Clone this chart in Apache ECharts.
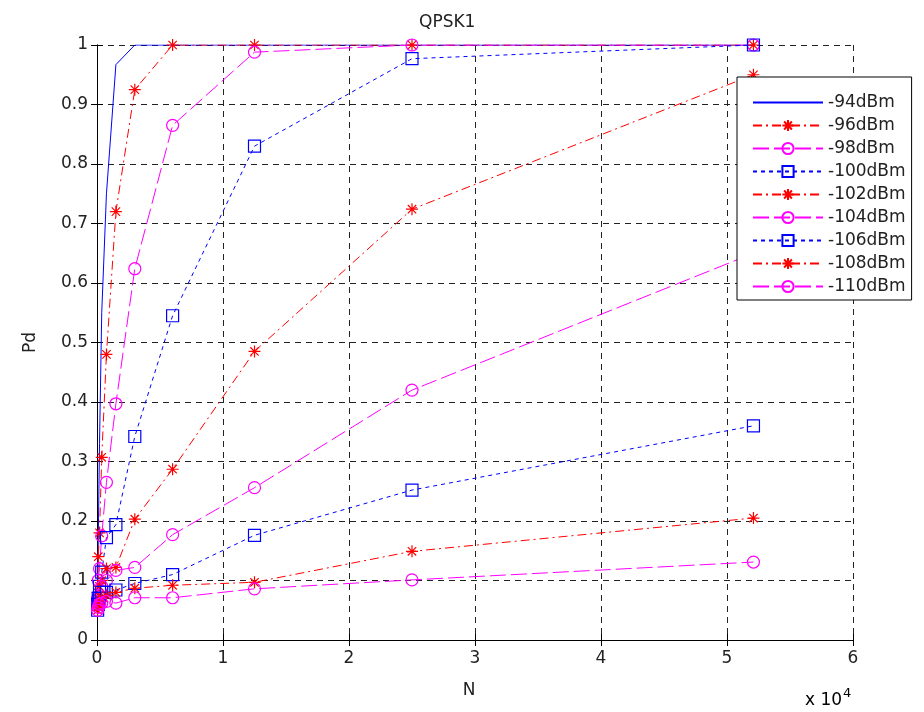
<!DOCTYPE html>
<html>
<head>
<meta charset="utf-8">
<script src="https://cdn.jsdelivr.net/npm/echarts@6/dist/echarts.min.js"></script>
<style>
html,body{margin:0;padding:0;background:#fff;}
#c{width:924px;height:712px;}
</style>
</head>
<body>
<div id="c"></div>
<script>
// Number of samples N (x axis)
const N = [50, 100, 200, 375, 750, 1500, 3000, 6000, 12500, 25000, 52100];
// Detection probability per received power
const seriesNames = ['-94dBm', '-96dBm', '-98dBm', '-100dBm', '-102dBm', '-104dBm', '-106dBm', '-108dBm', '-110dBm'];
const pd94  = [0.09, 0.17, 0.33, 0.55, 0.75, 0.967, 1, 1, 1, 1, 1];
const pd96  = [0.08, 0.14, 0.18, 0.307, 0.48, 0.72, 0.925, 1, 1, 1, 1];
const pd98  = [0.07, 0.10, 0.12, 0.175, 0.265, 0.397, 0.624, 0.865, 0.988, 1, 1];
const pd100 = [0.06, 0.07, 0.09, 0.114, 0.172, 0.194, 0.342, 0.545, 0.83, 0.977, 1];
const pd102 = [0.06, 0.07, 0.09, 0.10, 0.12, 0.122, 0.203, 0.287, 0.485, 0.724, 0.95];
const pd104 = [0.06, 0.065, 0.075, 0.09, 0.10, 0.117, 0.122, 0.177, 0.256, 0.42, 0.65];
const pd106 = [0.05, 0.06, 0.07, 0.08, 0.08, 0.084, 0.095, 0.11, 0.176, 0.252, 0.36];
const pd108 = [0.05, 0.055, 0.06, 0.07, 0.075, 0.08, 0.087, 0.092, 0.097, 0.149, 0.205];
const pd110 = [0.05, 0.055, 0.06, 0.062, 0.065, 0.062, 0.071, 0.071, 0.086, 0.101, 0.131];
const allPd = [pd94, pd96, pd98, pd100, pd102, pd104, pd106, pd108, pd110];
const xTicks = [0, 1, 2, 3, 4, 5, 6];
const yTicks = [0, 0.1, 0.2, 0.3, 0.4, 0.5, 0.6, 0.7, 0.8, 0.9, 1];

const FONT = 'DejaVu Sans';
const BLUE = '#0000ff', RED = '#ff0000', MAG = '#ff00ff';
const CLEAR = 'rgba(0,0,0,0)';
const ASTER = 'path://M5,0L5,10M0,5L10,5M1.5,1.5L8.5,8.5M1.5,8.5L8.5,1.5';
const styles = [
  {c: BLUE, sym: null, dash: 'solid'},
  {c: RED, sym: ASTER, dash: [9, 4, 2, 4]},
  {c: MAG, sym: 'circle', dash: [16, 5]},
  {c: BLUE, sym: 'rect', dash: [4, 4]},
  {c: RED, sym: ASTER, dash: [9, 4, 2, 4]},
  {c: MAG, sym: 'circle', dash: [16, 5]},
  {c: BLUE, sym: 'rect', dash: [4, 4]},
  {c: RED, sym: ASTER, dash: [9, 4, 2, 4]},
  {c: MAG, sym: 'circle', dash: [16, 5]}
];

const series = seriesNames.map((name, k) => {
  const s = styles[k];
  const noMarker = s.sym === null;
  return {
    name: name,
    type: 'line',
    data: N.map((n, i) => [n, allPd[k][i]]),
    symbol: noMarker ? 'circle' : s.sym,
    symbolSize: 12,
    showSymbol: !noMarker,
    lineStyle: {color: s.c, width: 1, type: s.dash},
    itemStyle: {color: CLEAR, borderColor: noMarker ? CLEAR : s.c, borderWidth: 1.2},
    emphasis: {disabled: true},
    animation: false
  };
});

const chart = echarts.init(document.getElementById('c'), null, {renderer: 'canvas'});
const axisLine = {show: true, lineStyle: {color: '#000', width: 1}};
const tick = {show: true, inside: true, length: 6, lineStyle: {color: '#000'}};
chart.setOption({
  backgroundColor: '#fff',
  animation: false,
  textStyle: {fontFamily: FONT},
  grid: {left: 97, right: 71, top: 45, bottom: 72, show: false},
  title: {
    text: 'QPSK1', left: 414, top: 9,
    textStyle: {fontFamily: FONT, fontSize: 17, fontWeight: 'normal', color: '#222'}
  },
  legend: {
    orient: 'vertical', left: 737, top: 77,
    padding: [17, 6, 5, 15],
    itemWidth: 70, itemHeight: 14, itemGap: 6,
    backgroundColor: '#fff', borderColor: '#000', borderWidth: 1,
    textStyle: {fontFamily: FONT, fontSize: 17, color: '#222', lineHeight: 14},
    data: seriesNames
  },
  xAxis: [{
    type: 'value', min: 0, max: 60000, interval: 10000,
    position: 'bottom',
    name: 'N', nameLocation: 'middle', nameGap: 42,
    nameTextStyle: {fontFamily: FONT, fontSize: 17, color: '#222', padding: [0, 12, 0, 0]},
    axisLine: axisLine, axisTick: tick,
    axisLabel: {fontFamily: FONT, fontSize: 17, color: '#222', margin: 10,
      formatter: v => String(xTicks[Math.round(v / 10000)])},
    splitLine: {show: true, lineStyle: {color: '#222', type: [6, 5], width: 1}}
  }, {
    type: 'value', min: 0, max: 60000, interval: 10000, position: 'top',
    axisLine: axisLine, axisTick: tick, axisLabel: {show: false}, splitLine: {show: false}
  }],
  yAxis: [{
    type: 'value', min: 0, max: 1, interval: 0.1,
    position: 'left',
    name: 'Pd', nameLocation: 'middle', nameGap: 58, nameRotate: 90,
    nameTextStyle: {fontFamily: FONT, fontSize: 17, color: '#222'},
    axisLine: axisLine, axisTick: tick,
    axisLabel: {fontFamily: FONT, fontSize: 17, color: '#222', margin: 9,
      formatter: v => String(yTicks[Math.round(v * 10)])},
    splitLine: {show: true, lineStyle: {color: '#222', type: [6, 5], width: 1}}
  }, {
    type: 'value', min: 0, max: 1, interval: 0.1, position: 'right',
    axisLine: axisLine, axisTick: tick, axisLabel: {show: false}, splitLine: {show: false}
  }],
  graphic: [{
    type: 'text', left: 805, top: 684,
    style: {
      text: '{a|x 10}{b|4}',
      rich: {
        a: {fontFamily: FONT, fontSize: 17, color: '#222', verticalAlign: 'bottom', lineHeight: 22, padding: [8, 0, 0, 0]},
        b: {fontFamily: FONT, fontSize: 13, color: '#222', verticalAlign: 'top', lineHeight: 22, padding: [0, 0, 8, 1]}
      }
    }
  }],
  series: series
});
</script>
</body>
</html>
